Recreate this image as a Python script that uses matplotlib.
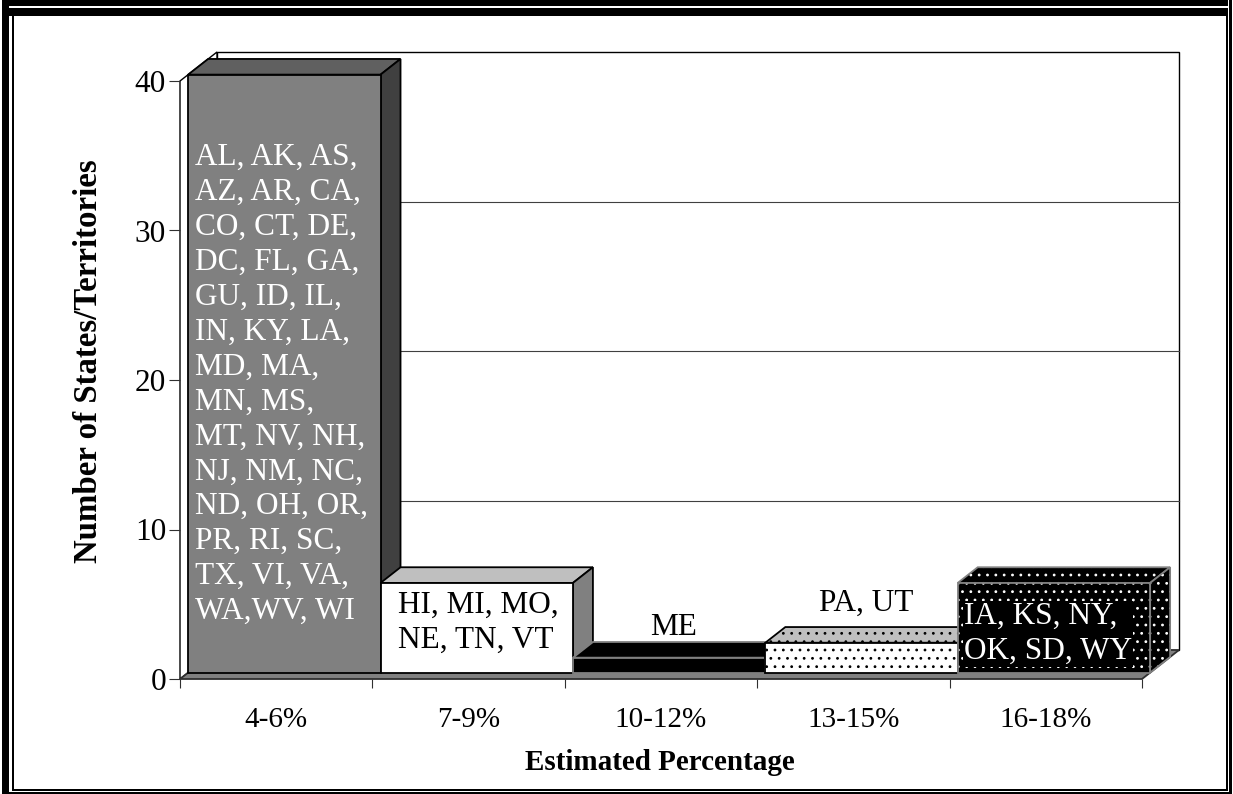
#!/usr/bin/env python
"""3-D style column chart: states/territories by estimated percentage."""
import matplotlib

matplotlib.use("Agg")
import matplotlib.pyplot as plt
from matplotlib.patches import Polygon, Rectangle

W, H = 1233, 794

categories = ["4-6%", "7-9%", "10-12%", "13-15%", "16-18%"]
counts = [40, 6, 1, 2, 6]
bar_labels = [
    "AL, AK, AS,\nAZ, AR, CA,\nCO, CT, DE,\nDC, FL, GA,\nGU, ID, IL,\nIN, KY, LA,\nMD, MA,\n"
    "MN, MS,\nMT, NV, NH,\nNJ, NM, NC,\nND, OH, OR,\nPR, RI, SC,\nTX, VI, VA,\nWA,WV, WI",
    "HI, MI, MO,\nNE, TN, VT",
    "ME",
    "PA, UT",
    "IA, KS, NY,\nOK, SD, WY",
]
y_ticks = [0, 10, 20, 30, 40]

front_colors = [0.5, 1.0, 0.0, 1.0, 0.0]
edge_colors = ["black", "black", "#808080", "black", "#808080"]
hatch_colors = [None, None, None, "black", "white"]

# projection of the depth axis, in data units per unit of depth
DX, DY = 37 / 192.4, 29 / 14.95
D0, D1 = 0.22, 0.76


def proj(x, y, d):
    return (x + d * DX, y + d * DY)


def shade(v, f):
    return (v * f, v * f, v * f)


def face(ax, pts, fc, ec="black", lw=1.3, hatch_color=None, z=2):
    verts = [proj(*p) for p in pts]
    if hatch_color is not None:
        ax.add_patch(Polygon(verts, closed=True, facecolor=fc, edgecolor=hatch_color,
                             hatch="..", lw=0, zorder=z, clip_on=False))
        fc = "none"
    ax.add_patch(Polygon(verts, closed=True, facecolor=fc, edgecolor=ec, lw=lw,
                         zorder=z, clip_on=False, joinstyle="miter"))


plt.rcParams["font.family"] = ["Liberation Serif", "DejaVu Serif"]
plt.rcParams["hatch.linewidth"] = 0.8

fig = plt.figure(figsize=(W / 100, H / 100), dpi=100)
ax = fig.add_axes([180 / W, 1 - 679 / H, (1142 - 180) / W, (679 - 81) / H])
ax.set_xlim(0, 5)
ax.set_ylim(0, 40)
for s in ax.spines.values():
    s.set_visible(False)

# outer double frame
for x0, y0, x1, y1 in [(2, 0, 1228, 6), (9, 8, 1228, 16), (2, 0, 9, H), (12, 8, 14, 791),
                       (1226, 8, 1228, 791), (1229, 0, 1232, H), (12, 789, 1228, 791),
                       (2, 792, 1232, H)]:
    fig.add_artist(Rectangle((x0 / W, 1 - y1 / H), (x1 - x0) / W, (y1 - y0) / H,
                             transform=fig.transFigure, facecolor="black", edgecolor="none"))

# walls and floor
face(ax, [(0, 40, 1), (5, 40, 1), (5, 0, 1), (0, 0, 1)], "white", lw=1.0, z=1)
face(ax, [(0, 0, 0), (0, 40, 0), (0, 40, 1), (0, 0, 1)], "white", lw=1.0, z=1)
for v in y_ticks[1:-1]:
    ax.plot(*zip(proj(0, v, 1), proj(5, v, 1)), color="#404040", lw=0.8, zorder=1.5, clip_on=False)
face(ax, [(0, 0, 0), (5, 0, 0), (5, 0, 1), (0, 0, 1)], "#808080", ec="#303030", lw=1.3, z=1.7)

# bars, left to right so that each one covers the side of the last
for i, n in enumerate(counts):
    c, e, h = front_colors[i], edge_colors[i], hatch_colors[i]
    face(ax, [(i, n, D0), (i + 1, n, D0), (i + 1, n, D1), (i, n, D1)], shade(c, 0.75), e, hatch_color=h)
    face(ax, [(i + 1, 0, D0), (i + 1, 0, D1), (i + 1, n, D1), (i + 1, n, D0)], shade(c, 0.5), e, hatch_color=h)
    face(ax, [(i, 0, D0), (i + 1, 0, D0), (i + 1, n, D0), (i, n, D0)], shade(c, 1.0), e, hatch_color=h)

# labels on the bars
text_size = 22.5
kw = dict(fontsize=text_size, ha="center", va="center", linespacing=1.272, zorder=5, multialignment="left")
ax.text(*proj(0.485, 19.28, D0), bar_labels[0], color="white", **kw)
ax.text(*proj(1.507, 3.31, D0), bar_labels[1], color="black", **kw)
ax.text(*proj(2.42, 2.0, D1), bar_labels[2], color="black", **kw)
ax.text(*proj(3.42, 3.6, D1), bar_labels[3], color="black", **kw)
ax.text(*proj(4.47, 2.59, D0), bar_labels[4], color="white",
        bbox=dict(facecolor="black", edgecolor="none", pad=1), **kw)

# axes
ax.set_yticks(y_ticks)
ax.set_xticks(range(6))
ax.set_xticklabels([])
ax.set_xticks([i + 0.5 for i in range(5)], categories, minor=True)
ax.tick_params(axis="y", length=8, width=0.8, color="#303030", labelsize=22.5, pad=2)
ax.tick_params(axis="x", which="major", length=6.5, width=0.8, color="#303030")
ax.tick_params(axis="x", which="minor", length=0, labelsize=21, pad=20)
ax.set_xlabel("Estimated Percentage", fontsize=21, fontweight="bold")
ax.set_ylabel("Number of States/Territories", fontsize=23.7, fontweight="bold")
ax.xaxis.set_label_coords(0.499, -0.1165)
ax.yaxis.set_label_coords(-0.079, 0.532)

fig.savefig("out.png", dpi=100)
plt.close(fig)
